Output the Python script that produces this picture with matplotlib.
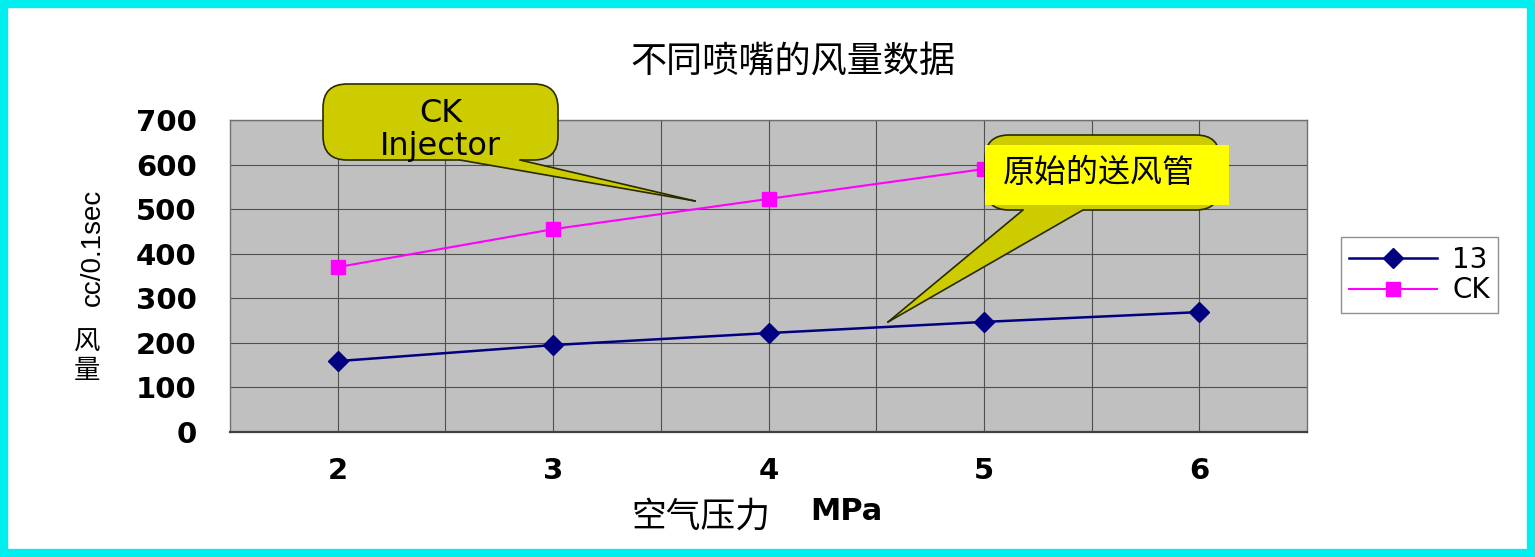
import matplotlib
matplotlib.use('Agg')
import matplotlib.pyplot as plt
import matplotlib.transforms as mtransforms
from matplotlib.patches import FancyBboxPatch, Polygon, Rectangle
from matplotlib.lines import Line2D
import numpy as np

W, H = 1535, 557

# data
pressure = [2, 3, 4, 5, 6]
flow_13 = [159, 195, 222, 247, 269]
flow_ck = [370, 455, 523, 590]          # the 6 MPa point sits under the yellow note
series_names = ['13', 'CK']
y_ticks = [0, 100, 200, 300, 400, 500, 600, 700]

title = '不同喷嘴的风量数据'
xlabel_cn = '空气压力'
xlabel_unit = 'MPa'
ylabel_unit = 'cc/0.1sec'
ylabel_cn = ['风', '量']
note_ck = ['CK', 'Injector']
note_orig = '原始的送风管'

CJK = ['Noto Sans CJK SC', 'DejaVu Sans']
WIDE = ['DejaVu Sans']
SANS = ['Liberation Sans', 'DejaVu Sans']

fig = plt.figure(figsize=(W / 100, H / 100), dpi=100)
fig.patch.set_facecolor('white')

# pixel coords of the image (y down) -> figure
px = mtransforms.Affine2D().scale(1 / W, -1 / H).translate(0, 1) + fig.transFigure

ax = fig.add_axes([230 / W, 1 - 432 / H, (1307 - 230) / W, (432 - 120) / H])
ax.set_facecolor('#c0c0c0')

ax.plot(pressure, flow_13, color='#000080', marker='D', ms=10, lw=1.8,
        label=series_names[0], zorder=3)
ax.plot(pressure[:len(flow_ck)], flow_ck, color='#ff00ff', marker='s', ms=10,
        lw=1.5, label=series_names[1], zorder=3)

ax.set_xlim(1.5, 6.5)
ax.set_ylim(0, 700)
ax.set_xticks(pressure)
ax.set_xticks(np.arange(2.5, 6.5, 1.0), minor=True)
ax.set_yticks(y_ticks)
ax.grid(which='both', axis='x', color='#505050', lw=0.8)
ax.grid(which='major', axis='y', color='#505050', lw=0.8)
ax.set_axisbelow(True)
ax.tick_params(which='both', length=0)
ax.tick_params(axis='y', pad=24)
ax.tick_params(axis='x', pad=18)
for lab in ax.get_xticklabels() + ax.get_yticklabels():
    lab.set_family(WIDE)
    lab.set_fontweight('bold')
    lab.set_fontsize(21)
for s in ax.spines.values():
    s.set_color('#707070')
    s.set_linewidth(1.0)
ax.spines['bottom'].set_color('#404040')
ax.spines['bottom'].set_linewidth(1.6)

leg = ax.legend(loc='center left', bbox_to_anchor=(1341 / W, 1 - 275 / H),
                bbox_transform=fig.transFigure, prop={'family': WIDE, 'size': 20},
                handlelength=3.15, handletextpad=0.55, borderpad=0.3,
                labelspacing=0.1, borderaxespad=0, fancybox=False,
                framealpha=1, edgecolor='#909090')
leg.get_frame().set_linewidth(1.0)

# titles and axis labels
fig.text(793, 62, title, transform=px, ha='center', va='center',
         family=CJK, fontsize=26)
fig.text(701, 517, xlabel_cn, transform=px, ha='center', va='center',
         family=CJK, fontsize=25)
fig.text(846, 511, xlabel_unit, transform=px, ha='center', va='center',
         family=WIDE, fontsize=22, fontweight='bold')
fig.text(93, 247, ylabel_unit, transform=px, ha='center', va='center',
         rotation=90, family=SANS, fontsize=20)
fig.text(87, 342, ylabel_cn[0], transform=px, ha='center', va='center',
         family=CJK, fontsize=19)
fig.text(87, 370, ylabel_cn[1], transform=px, ha='center', va='center',
         family=CJK, fontsize=19)


def callout(box, base, tip, face, z):
    x0, y0, x1, y1 = box
    fig.add_artist(FancyBboxPatch((x0, y0), x1 - x0, y1 - y0,
                                  boxstyle='round,pad=0,rounding_size=24',
                                  transform=px, fc=face, ec='#2a2a00', lw=1.2,
                                  zorder=z))
    bx0, bx1 = base
    pts = [(bx0, y1 - 5), (bx0, y1), tip, (bx1, y1), (bx1, y1 - 5)]
    fig.add_artist(Polygon(pts, closed=True, transform=px, fc=face, ec='none',
                           zorder=z + 0.1))
    for bx in base:
        fig.add_artist(Line2D([bx, tip[0]], [y1, tip[1]], transform=px,
                              color='#2a2a00', lw=1.2, zorder=z + 0.2))


callout((323, 84, 558, 160), (460, 520), (695, 201), '#cccc00', 5)
fig.text(441, 114, note_ck[0], transform=px, ha='center', va='center',
         family=WIDE, fontsize=23, zorder=6)
fig.text(440, 146, note_ck[1], transform=px, ha='center', va='center',
         family=WIDE, fontsize=23, zorder=6)

callout((985, 135, 1220, 210), (1023, 1083), (888, 322), '#cccc00', 5)
fig.add_artist(Rectangle((985, 145), 244, 60, transform=px, fc='#ffff00',
                         ec='none', zorder=6))
fig.text(1099, 173, note_orig, transform=px, ha='center', va='center',
         family=CJK, fontsize=23, fontweight='medium', zorder=7)

# cyan slide border
fig.add_artist(Rectangle((4, 4), W - 8, H - 8, transform=px, fc='none',
                         ec='#00eeee', lw=6, zorder=10))

fig.savefig('out.png', dpi=100)
